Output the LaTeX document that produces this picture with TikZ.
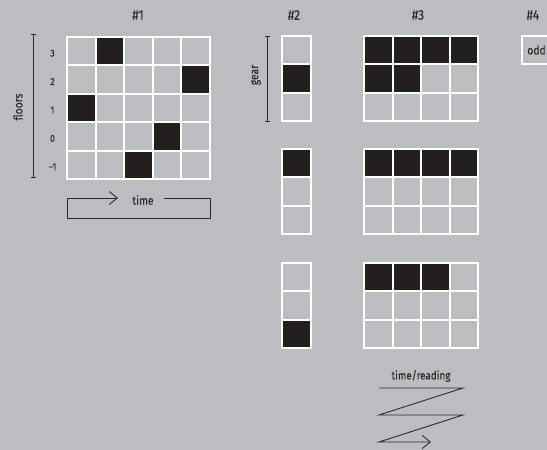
\documentclass[tikz,border=0pt]{standalone}
\usepackage{fontspec}
\setmainfont{Fira Sans}[FakeStretch=0.86,FakeBold=0.15]
\usetikzlibrary{arrows.meta}
\definecolor{bg}{HTML}{BCBDC0}
\definecolor{ink}{HTML}{231F20}
\definecolor{txt}{HTML}{2B2A2C}
\begin{document}
\begin{tikzpicture}[x=1pt,y=-1pt,
  cellbox/.style={draw=white,line width=2pt,minimum width=28.5pt,minimum height=28.4pt,inner sep=0pt,outer sep=0pt},
  ttl/.style={text=txt,font=\fontsize{14}{16}\selectfont,inner sep=0pt},
  lbl/.style={text=txt,font=\fontsize{10}{12}\selectfont,inner sep=0pt},
  axlbl/.style={text=txt,font=\fontsize{12}{14}\selectfont,inner sep=0pt},
  axline/.style={draw=txt,line width=0.9pt,{Bar[width=5pt]}-{Bar[width=5pt]}},
  thinline/.style={draw=txt,line width=0.9pt},
  chev/.style={-{Straight Barb[length=8pt,width=13pt,line width=0.9pt]}}]
\fill[bg] (0,0) rectangle (547,450);
\useasboundingbox (0,0) rectangle (547,450);
\clip (0,0) rectangle (547,450);

% titles
\node[ttl] (t1) at (138,15) {\#1};
\node[ttl] (t2) at (294,15) {\#2};
\node[ttl] (t3) at (418,15) {\#3};
\node[ttl] (t4) at (533,15) {\#4};

% grid #1
\foreach \i/\blk in {0/1,1/4,2/0,3/3,4/2}{
  \foreach \j in {0,...,4}{
    \ifnum\j=\blk\relax\def\fc{ink}\else\def\fc{bg}\fi
    \node[cellbox,fill=\fc,minimum width=28.6pt] (a-\i-\j) at ({67+28.6*(\j+0.5)},{37+28.4*(\i+0.5)}) {};
  }
}
\foreach \i/\t in {0/3,1/2,2/1,3/0,4/{–1}}{
  \node[lbl] (fl-\i) at (52.5,{37+28.4*(\i+0.5)+2}) {\t};
}
\coordinate (fa) at (33,34);
\coordinate (fb) at (33,178);
\draw[axline] (fa) -- (fb);
\node[axlbl,rotate=90] (floors) at (18,107) {floors};

% time bracket
\node[axlbl] (tm) at (143,200) {time};
\coordinate (b1) at (164,198);
\coordinate (b2) at (210,198);
\coordinate (b3) at (210,218);
\coordinate (b4) at (67,218);
\coordinate (b5) at (67,198);
\coordinate (b6) at (118,198);
\draw[thinline,chev] (b1) -- (b2) -- (b3) -- (b4) -- (b5) -- (b6);

% grid #2
\foreach \g/\top/\blk in {A/36/1,B/149/0,C/263/2}{
  \foreach \i in {0,1,2}{
    \ifnum\i=\blk\relax\def\fc{ink}\else\def\fc{bg}\fi
    \node[cellbox,fill=\fc,minimum width=29pt,minimum height=28.3pt] (b\g-\i) at (296.5,{\top+28.3*(\i+0.5)}) {};
  }
}
\coordinate (ga) at (267,36);
\coordinate (gb) at (267,122);
\draw[axline] (ga) -- (gb);
\node[axlbl,rotate=90] (gear) at (256,75) {gear};

% grid #3
\foreach \g/\top/\na/\nb in {A/36/4/2,B/149/4/0,C/263/3/0}{
  \foreach \i in {0,1,2}{
    \foreach \j in {0,...,3}{
      \ifcase\i\relax \edef\n{\na}\or \edef\n{\nb}\else \def\n{0}\fi
      \ifnum\j<\n\relax\def\fc{ink}\else\def\fc{bg}\fi
      \node[cellbox,fill=\fc,minimum height=28.3pt] (c\g-\i-\j) at ({364+28.5*(\j+0.5)},{\top+28.3*(\i+0.5)}) {};
    }
  }
}

% #4
\node[cellbox,fill=bg,text=txt,font=\fontsize{12}{14}\selectfont] (odd) at (536.5,50) {odd};

% time/reading
\node[lbl,font=\fontsize{11.5}{13}\selectfont] (tr) at (421,376) {time/reading};
\coordinate (z1) at (379,388);
\coordinate (z2) at (463,388);
\coordinate (z3) at (379,415);
\coordinate (z4) at (463,415);
\coordinate (z5) at (379,442);
\coordinate (z6) at (431,442);
\draw[thinline,chev] (z1) -- (z2) -- (z3) -- (z4) -- (z5) -- (z6);
\end{tikzpicture}
\end{document}
